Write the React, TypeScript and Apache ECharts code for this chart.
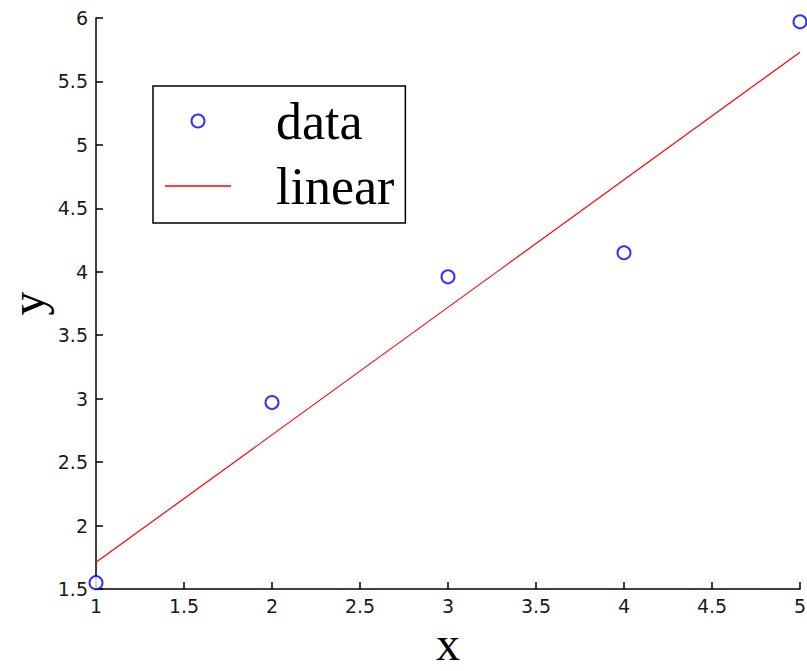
import React, { useEffect, useRef } from "react";
import * as echarts from "echarts";

const xData = [1, 2, 3, 4, 5];
const yData = [1.55, 2.97, 3.96, 4.15, 5.97];
const fitX = [1, 5];
const fitY = [1.71, 5.73];
const seriesNames = ["data", "linear"];

export default function App() {
  const ref = useRef<HTMLDivElement>(null);
  useEffect(() => {
    document.body.style.margin = "0";
    const chart = echarts.init(ref.current!, null, { renderer: "svg" });
    const tickFont = { fontFamily: "DejaVu Sans", fontSize: 19, color: "#1a1a1a" };
    chart.setOption({
      animation: false,
      backgroundColor: "#fff",
      grid: { left: 96, right: 7, top: 18, bottom: 82, containLabel: false, outerBoundsMode: "none" },
      xAxis: {
        type: "value",
        min: 1,
        max: 5,
        interval: 0.5,
        name: "x",
        nameLocation: "middle",
        nameGap: 30,
        nameTextStyle: { fontFamily: "Liberation Serif", fontSize: 48, color: "#000", lineHeight: 34 },
        axisLine: { show: true, lineStyle: { color: "#000", width: 1.5 } },
        axisTick: { show: true, inside: true, length: 7, lineStyle: { color: "#000", width: 1.5 } },
        axisLabel: { ...tickFont, margin: 7 },
        splitLine: { show: false },
      },
      yAxis: {
        type: "value",
        min: 1.5,
        max: 6,
        interval: 0.5,
        name: "y",
        nameLocation: "middle",
        nameGap: 52,
        nameMoveOverlap: false,
        nameRotate: 90,
        nameTextStyle: { fontFamily: "Liberation Serif", fontSize: 48, color: "#000", lineHeight: 34 },
        axisLine: { show: true, lineStyle: { color: "#000", width: 1.5 } },
        axisTick: { show: true, inside: true, length: 7, lineStyle: { color: "#000", width: 1.5 } },
        axisLabel: { ...tickFont, margin: 8 },
        splitLine: { show: false },
      },
      legend: {
        orient: "vertical",
        left: 153,
        top: 86,
        padding: [9, 11, 11, 12],
        borderColor: "#000",
        borderWidth: 1.5,
        borderRadius: 0,
        itemWidth: 66,
        itemHeight: 13,
        itemGap: 13,
        symbolKeepAspect: true,
        textStyle: { fontFamily: "Liberation Serif", fontSize: 52, color: "#000", lineHeight: 44, padding: [0, 0, 0, 40] },
        data: [
          { name: seriesNames[0], icon: "emptyCircle", itemStyle: { color: "#0000ff", borderColor: "#0000ff", borderWidth: 1.5 } },
          { name: seriesNames[1], icon: "path://M0,0H66V1.3H0Z", itemStyle: { color: "#ff0000" } },
        ],
      },
      series: [
        {
          name: seriesNames[0],
          type: "scatter",
          data: xData.map((x, i) => [x, yData[i]]),
          symbol: "emptyCircle",
          symbolSize: 13,
          itemStyle: { color: "#0000ff", borderColor: "#0000ff", borderWidth: 1.5 },
          clip: false,
          z: 3,
        },
        {
          name: seriesNames[1],
          type: "line",
          data: fitX.map((x, i) => [x, fitY[i]]),
          showSymbol: false,
          symbol: "none",
          lineStyle: { color: "#ff0000", width: 1.2 },
          itemStyle: { color: "#ff0000" },
          z: 2,
        },
      ],
    });
    return () => chart.dispose();
  }, []);
  return <div ref={ref} style={{ width: 807, height: 671 }} />;
}
